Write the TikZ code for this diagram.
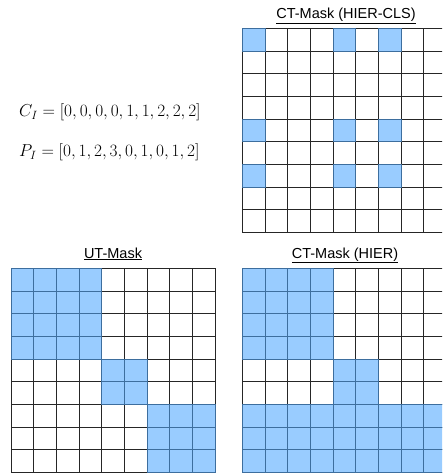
\documentclass[tikz,border=0pt]{standalone}
\usepackage{fontspec}
\setsansfont{Liberation Sans}
\usepackage{tikz}
\usetikzlibrary{positioning}
\definecolor{cellblue}{HTML}{99CCFF}
\definecolor{celledge}{HTML}{3D6E9E}

\tikzset{
  maskcell/.style={fill=cellblue, draw=celledge, line width=0.8pt},
  gridline/.style={draw=black!85, line width=0.8pt},
  masktitle/.style={font=\fontsize{14.5}{17}\selectfont\sffamily, inner sep=0pt, anchor=base},
  formula/.style={font=\fontsize{17.5}{21}\selectfont, inner sep=0pt, anchor=base west}
}

\begin{document}
\begin{tikzpicture}[x=1pt, y=-1pt]
  \useasboundingbox (0,0) rectangle (442,473);
  \clip (0,0) rectangle (442,473);
  \fill[white] (0,0) rectangle (442,473);
  \def\cs{22.67}

  % Index vectors
  \node[formula] (cvec) at (19,116.7) {$C_I = [0,0,0,0,1,1,2,2,2]$};
  \node[formula] (pvec) at (19,156.7) {$P_I = [0,1,2,3,0,1,0,1,2]$};

  % CT-Mask (HIER-CLS), top right
  \node[masktitle] (clstitle) at (346,19) {\underline{CT-Mask (HIER-CLS)}};
  \begin{scope}[shift={(242.3,28.3)}]
    \foreach \i in {0,...,9} {
      \draw[gridline] (\i*\cs,0) -- (\i*\cs,9*\cs);
      \draw[gridline] (0,\i*\cs) -- (9*\cs,\i*\cs);
    }
    \foreach \r in {0,4,6} \foreach \c in {0,4,6}
      \draw[maskcell] (\c*\cs,\r*\cs) rectangle ++(\cs,\cs);
  \end{scope}

  % UT-Mask, bottom left
  \node[masktitle] (uttitle) at (113,258) {\underline{UT-Mask}};
  \begin{scope}[shift={(11,268.3)}]
    \foreach \i in {0,...,9} {
      \draw[gridline] (\i*\cs,0) -- (\i*\cs,9*\cs);
      \draw[gridline] (0,\i*\cs) -- (9*\cs,\i*\cs);
    }
    \foreach \r in {0,...,3} \foreach \c in {0,...,3}
      \draw[maskcell] (\c*\cs,\r*\cs) rectangle ++(\cs,\cs);
    \foreach \r in {4,5} \foreach \c in {4,5}
      \draw[maskcell] (\c*\cs,\r*\cs) rectangle ++(\cs,\cs);
    \foreach \r in {6,7,8} \foreach \c in {6,7,8}
      \draw[maskcell] (\c*\cs,\r*\cs) rectangle ++(\cs,\cs);
  \end{scope}

  % CT-Mask (HIER), bottom right
  \node[masktitle] (hiertitle) at (345,258) {\underline{CT-Mask (HIER)}};
  \begin{scope}[shift={(242.3,268.3)}]
    \foreach \i in {0,...,9} {
      \draw[gridline] (\i*\cs,0) -- (\i*\cs,9*\cs);
      \draw[gridline] (0,\i*\cs) -- (9*\cs,\i*\cs);
    }
    \foreach \r in {0,...,3} \foreach \c in {0,...,3}
      \draw[maskcell] (\c*\cs,\r*\cs) rectangle ++(\cs,\cs);
    \foreach \r in {4,5} \foreach \c in {4,5}
      \draw[maskcell] (\c*\cs,\r*\cs) rectangle ++(\cs,\cs);
    \foreach \r in {6,7,8} \foreach \c in {0,...,8}
      \draw[maskcell] (\c*\cs,\r*\cs) rectangle ++(\cs,\cs);
  \end{scope}
\end{tikzpicture}
\end{document}
